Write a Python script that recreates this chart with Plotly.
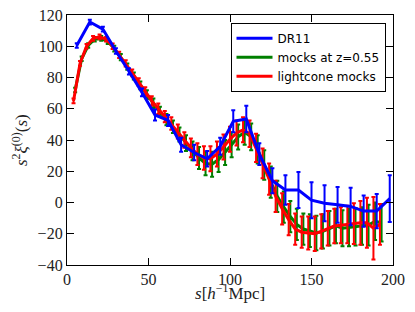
import plotly.graph_objects as go

# DR11 (8 Mpc/h bins)
s_dr11 = [6, 14, 22, 30, 38, 46, 54, 62, 70, 78, 86, 94, 102, 110, 118, 126, 134, 142, 150, 158, 166, 174, 182, 190, 198]
xi_dr11 = [100.5, 115.5, 111, 97, 84, 70.5, 56, 52.5, 37, 32, 28, 36, 52, 53.5, 31, 14, 8, 8, 1.5, -0.5, -1.5, -2.5, -5.5, -5.5, 2.5]
err_dr11 = [1.5, 1.5, 1.5, 1.8, 2, 2.5, 3.5, 3.5, 4.5, 5, 5, 5.5, 7, 8.5, 7, 8, 9.5, 11.5, 11.5, 11.5, 11.5, 12, 10, 11, 15]

# mocks at z=0.55
s_mocks = [5, 9, 13, 17, 21, 25, 29, 33, 37, 41, 45, 49, 53, 57, 61, 65, 69, 73, 77, 81, 85, 89, 93, 97,
           101, 105, 109, 113, 117, 121, 125, 129, 133, 137, 141, 145, 149, 153, 157, 161, 165, 169, 173,
           177, 181, 185, 189, 193]
xi_mocks = [72, 92, 100.5, 104.5, 105, 103, 98.5, 93, 87, 81, 75, 69, 63.5, 58, 53, 48.5, 43.5, 38, 33, 28.5,
            25, 24.5, 27.5, 32, 37, 42, 45, 42, 34, 24, 13, 4, -3, -9, -14, -17, -18, -19.5, -18.5, -16.5,
            -15, -16.5, -16, -15.5, -15, -14.5, -12, -13]
err_mocks = [1.5, 1.5, 1.5, 1.5, 1.5, 1.5, 1.8, 2, 2, 2.2, 2.5, 2.8, 3, 3.3, 3.6, 4, 4.5, 5, 6, 7, 7.5, 8, 8, 8,
             8, 8, 8, 8.5, 9, 9.5, 10, 10, 10, 10, 10, 10, 10.5, 11, 11, 11, 11, 11.5, 12, 12, 12, 13, 12, 12]

# lightcone mocks
s_light = [4, 8, 12, 16, 20, 24, 28, 32, 36, 40, 44, 48, 52, 56, 60, 64, 68, 72, 76, 80, 84, 88, 92, 96,
           100, 104, 108, 112, 116, 120, 124, 128, 132, 136, 140, 144, 148, 152, 156, 160, 164, 168, 172,
           176, 180, 184, 188, 192]
xi_light = [65, 89, 100, 105, 106, 104.5, 100, 94.5, 89, 83, 77, 71, 65, 60, 55, 50.5, 45.5, 40, 35, 31, 28.5,
            28, 31, 35.5, 40.5, 44.5, 46.5, 44, 35, 25, 15, 4, -4, -11, -17, -19, -19.5, -20, -18.5, -16.5,
            -15, -14.5, -14, -13.5, -13, -13, -16.5, -14]
err_light = [1.5, 1.5, 1.5, 1.5, 1.5, 1.5, 1.8, 2, 2, 2.2, 2.5, 2.8, 3, 3.3, 3.6, 4, 4.5, 5, 6, 7, 7.5, 8, 8, 8,
             8, 8, 8, 8.5, 9, 9.5, 10, 10, 10, 10, 10, 10, 10.5, 11, 11, 11, 11, 11.5, 12, 13, 14, 16, 20, 13]

x_ticks = [0, 50, 100, 150, 200]
y_ticks = [-40, -20, 0, 20, 40, 60, 80, 100, 120]

x_title = "<i>s</i>[<i>h</i><sup>−1</sup>Mpc]"
y_title = "<i>s</i><sup>2</sup><i>ξ</i><sup>(0)</sup>(<i>s</i>)"

fig = go.Figure()

def add(s, xi, err, name, color, rank):
    fig.add_trace(go.Scatter(
        x=s, y=xi, name=name, mode="lines",
        line=dict(color=color, width=3),
        error_y=dict(type="data", array=err, visible=True, color=color, thickness=2, width=2),
        legendrank=rank, legendgroup=name,
    ))

add(s_mocks, xi_mocks, err_mocks, "mocks at z=0.55", "#008000", 2)
add(s_light, xi_light, err_light, "lightcone mocks", "#ff0000", 3)
add(s_dr11, xi_dr11, err_dr11, "DR11", "#0000ff", 1)

axis_common = dict(
    showline=True, linecolor="black", linewidth=1.3, mirror="ticks",
    ticks="inside", ticklen=7, tickwidth=1, tickcolor="black",
    showgrid=False, zeroline=False, automargin=False, ticklabeloverflow="allow",
    tickfont=dict(family="Liberation Serif", size=16, color="#222"),
)

title_font = dict(family="Liberation Serif", size=17, color="#222")

fig.update_layout(
    width=407, height=304,
    margin=dict(l=59, r=22, t=7, b=47),
    paper_bgcolor="white", plot_bgcolor="white",
    xaxis=dict(range=[0, 200], tickvals=x_ticks, **axis_common),
    yaxis=dict(range=[-40, 120], tickvals=y_ticks, **axis_common),
    legend=dict(x=0.977, y=0.969, xanchor="right", yanchor="top",
                bordercolor="black", borderwidth=1, bgcolor="white",
                font=dict(family="DejaVu Sans", size=12, color="black"),
                itemwidth=36, tracegroupgap=4, traceorder="normal"),
    showlegend=True,
    annotations=[
        dict(text=x_title, xref="paper", yref="paper", x=0.5, y=0, xanchor="center",
             yanchor="middle", yshift=-27, showarrow=False, font=title_font),
        dict(text=y_title, xref="paper", yref="paper", x=0, y=0.5, xanchor="center",
             yanchor="middle", xshift=-47, textangle=-90, showarrow=False, font=title_font),
    ],
)

fig.write_html("out.html")
